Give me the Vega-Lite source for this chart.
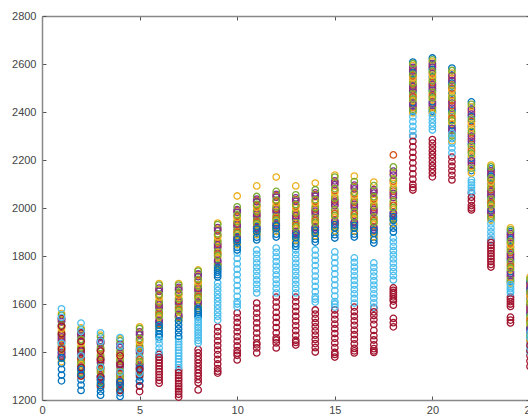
{
"$schema": "https://vega.github.io/schema/vega-lite/v6.json",
"width": 486,
"height": 384,
"autosize": "none",
"padding": {"left": 42, "top": 16, "right": 0, "bottom": 15},
"background": "white",
"config": {"view": {"stroke": null}, "axis": {"labelFont": "Liberation Sans", "labelFontSize": 11, "labelColor": "#444444", "domainColor": "#888888", "domainWidth": 1.5, "tickColor": "#555555", "tickSize": -4, "grid": false, "labelFlush": false}},
"layer": [
{"data": {"values": [
{"h":1,"c":1,"v":1328},{"h":1,"c":2,"v":1457},{"h":1,"c":3,"v":1429},{"h":1,"c":4,"v":1450},{"h":1,"c":5,"v":1436},{"h":1,"c":6,"v":1472},{"h":1,"c":7,"v":1444},
{"h":1,"c":1,"v":1400},{"h":1,"c":2,"v":1532},{"h":1,"c":3,"v":1560},{"h":1,"c":4,"v":1539},{"h":1,"c":5,"v":1553},{"h":1,"c":6,"v":1580},{"h":1,"c":7,"v":1540},
{"h":1,"c":1,"v":1280},{"h":1,"c":2,"v":1381},{"h":1,"c":3,"v":1360},{"h":1,"c":4,"v":1388},{"h":1,"c":5,"v":1374},{"h":1,"c":6,"v":1400},{"h":1,"c":7,"v":1380},
{"h":1,"c":1,"v":1352},{"h":1,"c":2,"v":1470},{"h":1,"c":3,"v":1484},{"h":1,"c":4,"v":1463},{"h":1,"c":5,"v":1477},{"h":1,"c":6,"v":1508},{"h":1,"c":7,"v":1476},
{"h":1,"c":1,"v":1304},{"h":1,"c":2,"v":1422},{"h":1,"c":3,"v":1408},{"h":1,"c":4,"v":1395},{"h":1,"c":5,"v":1415},{"h":1,"c":6,"v":1436},{"h":1,"c":7,"v":1412},
{"h":1,"c":1,"v":1376},{"h":1,"c":2,"v":1505},{"h":1,"c":3,"v":1498},{"h":1,"c":4,"v":1526},{"h":1,"c":5,"v":1512},{"h":1,"c":6,"v":1544},{"h":1,"c":7,"v":1508},
{"h":2,"c":1,"v":1284},{"h":2,"c":2,"v":1397},{"h":2,"c":3,"v":1369},{"h":2,"c":4,"v":1390},{"h":2,"c":5,"v":1376},{"h":2,"c":6,"v":1418},{"h":2,"c":7,"v":1372},
{"h":2,"c":1,"v":1350},{"h":2,"c":2,"v":1472},{"h":2,"c":3,"v":1500},{"h":2,"c":4,"v":1479},{"h":2,"c":5,"v":1493},{"h":2,"c":6,"v":1520},{"h":2,"c":7,"v":1480},
{"h":2,"c":1,"v":1240},{"h":2,"c":2,"v":1321},{"h":2,"c":3,"v":1300},{"h":2,"c":4,"v":1328},{"h":2,"c":5,"v":1314},{"h":2,"c":6,"v":1350},{"h":2,"c":7,"v":1300},
{"h":2,"c":1,"v":1306},{"h":2,"c":2,"v":1410},{"h":2,"c":3,"v":1424},{"h":2,"c":4,"v":1403},{"h":2,"c":5,"v":1417},{"h":2,"c":6,"v":1452},{"h":2,"c":7,"v":1408},
{"h":2,"c":1,"v":1262},{"h":2,"c":2,"v":1362},{"h":2,"c":3,"v":1348},{"h":2,"c":4,"v":1335},{"h":2,"c":5,"v":1355},{"h":2,"c":6,"v":1384},{"h":2,"c":7,"v":1336},
{"h":2,"c":1,"v":1328},{"h":2,"c":2,"v":1445},{"h":2,"c":3,"v":1438},{"h":2,"c":4,"v":1466},{"h":2,"c":5,"v":1452},{"h":2,"c":6,"v":1486},{"h":2,"c":7,"v":1444},
{"h":3,"c":1,"v":1252},{"h":3,"c":2,"v":1361},{"h":3,"c":3,"v":1332},{"h":3,"c":4,"v":1354},{"h":3,"c":5,"v":1340},{"h":3,"c":6,"v":1372},{"h":3,"c":7,"v":1332},
{"h":3,"c":1,"v":1300},{"h":3,"c":2,"v":1441},{"h":3,"c":3,"v":1470},{"h":3,"c":4,"v":1448},{"h":3,"c":5,"v":1463},{"h":3,"c":6,"v":1480},{"h":3,"c":7,"v":1440},
{"h":3,"c":1,"v":1220},{"h":3,"c":2,"v":1282},{"h":3,"c":3,"v":1260},{"h":3,"c":4,"v":1289},{"h":3,"c":5,"v":1274},{"h":3,"c":6,"v":1300},{"h":3,"c":7,"v":1260},
{"h":3,"c":1,"v":1268},{"h":3,"c":2,"v":1376},{"h":3,"c":3,"v":1390},{"h":3,"c":4,"v":1369},{"h":3,"c":5,"v":1383},{"h":3,"c":6,"v":1408},{"h":3,"c":7,"v":1368},
{"h":3,"c":1,"v":1236},{"h":3,"c":2,"v":1325},{"h":3,"c":3,"v":1311},{"h":3,"c":4,"v":1296},{"h":3,"c":5,"v":1318},{"h":3,"c":6,"v":1336},{"h":3,"c":7,"v":1296},
{"h":3,"c":1,"v":1284},{"h":3,"c":2,"v":1412},{"h":3,"c":3,"v":1405},{"h":3,"c":4,"v":1434},{"h":3,"c":5,"v":1419},{"h":3,"c":6,"v":1444},{"h":3,"c":7,"v":1404},
{"h":4,"c":1,"v":1245},{"h":4,"c":2,"v":1344},{"h":4,"c":3,"v":1314},{"h":4,"c":4,"v":1336},{"h":4,"c":5,"v":1322},{"h":4,"c":6,"v":1352},{"h":4,"c":7,"v":1312},
{"h":4,"c":1,"v":1290},{"h":4,"c":2,"v":1425},{"h":4,"c":3,"v":1455},{"h":4,"c":4,"v":1433},{"h":4,"c":5,"v":1447},{"h":4,"c":6,"v":1460},{"h":4,"c":7,"v":1420},
{"h":4,"c":1,"v":1215},{"h":4,"c":2,"v":1262},{"h":4,"c":3,"v":1240},{"h":4,"c":4,"v":1270},{"h":4,"c":5,"v":1255},{"h":4,"c":6,"v":1280},{"h":4,"c":7,"v":1240},
{"h":4,"c":1,"v":1260},{"h":4,"c":2,"v":1359},{"h":4,"c":3,"v":1373},{"h":4,"c":4,"v":1351},{"h":4,"c":5,"v":1366},{"h":4,"c":6,"v":1388},{"h":4,"c":7,"v":1348},
{"h":4,"c":1,"v":1230},{"h":4,"c":2,"v":1307},{"h":4,"c":3,"v":1292},{"h":4,"c":4,"v":1277},{"h":4,"c":5,"v":1299},{"h":4,"c":6,"v":1316},{"h":4,"c":7,"v":1276},
{"h":4,"c":1,"v":1275},{"h":4,"c":2,"v":1396},{"h":4,"c":3,"v":1388},{"h":4,"c":4,"v":1418},{"h":4,"c":5,"v":1403},{"h":4,"c":6,"v":1424},{"h":4,"c":7,"v":1384},
{"h":5,"c":1,"v":1296},{"h":5,"c":2,"v":1402},{"h":5,"c":3,"v":1374},{"h":5,"c":4,"v":1395},{"h":5,"c":5,"v":1381},{"h":5,"c":6,"v":1344},{"h":5,"c":7,"v":1281},
{"h":5,"c":1,"v":1350},{"h":5,"c":2,"v":1477},{"h":5,"c":3,"v":1505},{"h":5,"c":4,"v":1484},{"h":5,"c":5,"v":1498},{"h":5,"c":6,"v":1440},{"h":5,"c":7,"v":1350},
{"h":5,"c":1,"v":1260},{"h":5,"c":2,"v":1326},{"h":5,"c":3,"v":1305},{"h":5,"c":4,"v":1333},{"h":5,"c":5,"v":1319},{"h":5,"c":6,"v":1280},{"h":5,"c":7,"v":1235},
{"h":5,"c":1,"v":1314},{"h":5,"c":2,"v":1415},{"h":5,"c":3,"v":1429},{"h":5,"c":4,"v":1408},{"h":5,"c":5,"v":1422},{"h":5,"c":6,"v":1376},{"h":5,"c":7,"v":1304},
{"h":5,"c":1,"v":1278},{"h":5,"c":2,"v":1367},{"h":5,"c":3,"v":1353},{"h":5,"c":4,"v":1340},{"h":5,"c":5,"v":1360},{"h":5,"c":6,"v":1312},{"h":5,"c":7,"v":1258},
{"h":5,"c":1,"v":1332},{"h":5,"c":2,"v":1450},{"h":5,"c":3,"v":1443},{"h":5,"c":4,"v":1471},{"h":5,"c":5,"v":1457},{"h":5,"c":6,"v":1408},{"h":5,"c":7,"v":1327},
{"h":6,"c":1,"v":1488},{"h":6,"c":2,"v":1589},{"h":6,"c":3,"v":1564},{"h":6,"c":4,"v":1583},{"h":6,"c":5,"v":1570},{"h":6,"c":6,"v":1416},{"h":6,"c":7,"v":1318},
{"h":6,"c":1,"v":1525},{"h":6,"c":2,"v":1660},{"h":6,"c":3,"v":1685},{"h":6,"c":4,"v":1666},{"h":6,"c":5,"v":1679},{"h":6,"c":6,"v":1470},{"h":6,"c":7,"v":1390},
{"h":6,"c":1,"v":1462},{"h":6,"c":2,"v":1519},{"h":6,"c":3,"v":1500},{"h":6,"c":4,"v":1526},{"h":6,"c":5,"v":1513},{"h":6,"c":6,"v":1380},{"h":6,"c":7,"v":1270},
{"h":6,"c":1,"v":1500},{"h":6,"c":2,"v":1602},{"h":6,"c":3,"v":1615},{"h":6,"c":4,"v":1596},{"h":6,"c":5,"v":1608},{"h":6,"c":6,"v":1434},{"h":6,"c":7,"v":1342},
{"h":6,"c":1,"v":1475},{"h":6,"c":2,"v":1557},{"h":6,"c":3,"v":1545},{"h":6,"c":4,"v":1532},{"h":6,"c":5,"v":1551},{"h":6,"c":6,"v":1398},{"h":6,"c":7,"v":1294},
{"h":6,"c":1,"v":1512},{"h":6,"c":2,"v":1634},{"h":6,"c":3,"v":1628},{"h":6,"c":4,"v":1653},{"h":6,"c":5,"v":1640},{"h":6,"c":6,"v":1452},{"h":6,"c":7,"v":1366},
{"h":7,"c":1,"v":1497},{"h":7,"c":2,"v":1605},{"h":7,"c":3,"v":1583},{"h":7,"c":4,"v":1599},{"h":7,"c":5,"v":1589},{"h":7,"c":6,"v":1383},{"h":7,"c":7,"v":1257},
{"h":7,"c":1,"v":1545},{"h":7,"c":2,"v":1663},{"h":7,"c":3,"v":1685},{"h":7,"c":4,"v":1669},{"h":7,"c":5,"v":1679},{"h":7,"c":6,"v":1455},{"h":7,"c":7,"v":1325},
{"h":7,"c":1,"v":1465},{"h":7,"c":2,"v":1546},{"h":7,"c":3,"v":1530},{"h":7,"c":4,"v":1551},{"h":7,"c":5,"v":1541},{"h":7,"c":6,"v":1335},{"h":7,"c":7,"v":1212},
{"h":7,"c":1,"v":1513},{"h":7,"c":2,"v":1615},{"h":7,"c":3,"v":1626},{"h":7,"c":4,"v":1610},{"h":7,"c":5,"v":1621},{"h":7,"c":6,"v":1407},{"h":7,"c":7,"v":1280},
{"h":7,"c":1,"v":1481},{"h":7,"c":2,"v":1578},{"h":7,"c":3,"v":1567},{"h":7,"c":4,"v":1557},{"h":7,"c":5,"v":1573},{"h":7,"c":6,"v":1359},{"h":7,"c":7,"v":1235},
{"h":7,"c":1,"v":1529},{"h":7,"c":2,"v":1642},{"h":7,"c":3,"v":1637},{"h":7,"c":4,"v":1658},{"h":7,"c":5,"v":1647},{"h":7,"c":6,"v":1431},{"h":7,"c":7,"v":1302},
{"h":8,"c":1,"v":1565},{"h":8,"c":2,"v":1658},{"h":8,"c":3,"v":1636},{"h":8,"c":4,"v":1653},{"h":8,"c":5,"v":1641},{"h":8,"c":6,"v":1480},{"h":8,"c":7,"v":1326},
{"h":8,"c":1,"v":1590},{"h":8,"c":2,"v":1720},{"h":8,"c":3,"v":1742},{"h":8,"c":4,"v":1725},{"h":8,"c":5,"v":1737},{"h":8,"c":6,"v":1545},{"h":8,"c":7,"v":1410},
{"h":8,"c":1,"v":1548},{"h":8,"c":2,"v":1597},{"h":8,"c":3,"v":1580},{"h":8,"c":4,"v":1602},{"h":8,"c":5,"v":1591},{"h":8,"c":6,"v":1437},{"h":8,"c":7,"v":1242},
{"h":8,"c":1,"v":1573},{"h":8,"c":2,"v":1669},{"h":8,"c":3,"v":1681},{"h":8,"c":4,"v":1664},{"h":8,"c":5,"v":1675},{"h":8,"c":6,"v":1502},{"h":8,"c":7,"v":1354},
{"h":8,"c":1,"v":1556},{"h":8,"c":2,"v":1630},{"h":8,"c":3,"v":1619},{"h":8,"c":4,"v":1608},{"h":8,"c":5,"v":1625},{"h":8,"c":6,"v":1459},{"h":8,"c":7,"v":1272},
{"h":8,"c":1,"v":1582},{"h":8,"c":2,"v":1697},{"h":8,"c":3,"v":1692},{"h":8,"c":4,"v":1714},{"h":8,"c":5,"v":1703},{"h":8,"c":6,"v":1523},{"h":8,"c":7,"v":1382},
{"h":9,"c":1,"v":1732},{"h":9,"c":2,"v":1840},{"h":9,"c":3,"v":1815},{"h":9,"c":4,"v":1834},{"h":9,"c":5,"v":1821},{"h":9,"c":6,"v":1595},{"h":9,"c":7,"v":1389},
{"h":9,"c":1,"v":1760},{"h":9,"c":2,"v":1911},{"h":9,"c":3,"v":1937},{"h":9,"c":4,"v":1918},{"h":9,"c":5,"v":1931},{"h":9,"c":6,"v":1687},{"h":9,"c":7,"v":1504},
{"h":9,"c":1,"v":1713},{"h":9,"c":2,"v":1769},{"h":9,"c":3,"v":1750},{"h":9,"c":4,"v":1776},{"h":9,"c":5,"v":1763},{"h":9,"c":6,"v":1533},{"h":9,"c":7,"v":1312},
{"h":9,"c":1,"v":1741},{"h":9,"c":2,"v":1853},{"h":9,"c":3,"v":1866},{"h":9,"c":4,"v":1847},{"h":9,"c":5,"v":1860},{"h":9,"c":6,"v":1625},{"h":9,"c":7,"v":1427},
{"h":9,"c":1,"v":1722},{"h":9,"c":2,"v":1808},{"h":9,"c":3,"v":1795},{"h":9,"c":4,"v":1782},{"h":9,"c":5,"v":1802},{"h":9,"c":6,"v":1564},{"h":9,"c":7,"v":1350},
{"h":9,"c":1,"v":1750},{"h":9,"c":2,"v":1885},{"h":9,"c":3,"v":1879},{"h":9,"c":4,"v":1905},{"h":9,"c":5,"v":1892},{"h":9,"c":6,"v":1656},{"h":9,"c":7,"v":1466},
{"h":10,"c":1,"v":1847},{"h":10,"c":2,"v":1926},{"h":10,"c":3,"v":1904},{"h":10,"c":4,"v":1921},{"h":10,"c":5,"v":1909},{"h":10,"c":6,"v":1677},{"h":10,"c":7,"v":1445},
{"h":10,"c":1,"v":1880},{"h":10,"c":2,"v":1988},{"h":10,"c":3,"v":2050},{"h":10,"c":4,"v":1993},{"h":10,"c":5,"v":2005},{"h":10,"c":6,"v":1812},{"h":10,"c":7,"v":1562},
{"h":10,"c":1,"v":1825},{"h":10,"c":2,"v":1865},{"h":10,"c":3,"v":1848},{"h":10,"c":4,"v":1870},{"h":10,"c":5,"v":1859},{"h":10,"c":6,"v":1587},{"h":10,"c":7,"v":1367},
{"h":10,"c":1,"v":1858},{"h":10,"c":2,"v":1937},{"h":10,"c":3,"v":1949},{"h":10,"c":4,"v":1932},{"h":10,"c":5,"v":1943},{"h":10,"c":6,"v":1722},{"h":10,"c":7,"v":1484},
{"h":10,"c":1,"v":1836},{"h":10,"c":2,"v":1898},{"h":10,"c":3,"v":1887},{"h":10,"c":4,"v":1876},{"h":10,"c":5,"v":1893},{"h":10,"c":6,"v":1632},{"h":10,"c":7,"v":1406},
{"h":10,"c":1,"v":1869},{"h":10,"c":2,"v":1965},{"h":10,"c":3,"v":1960},{"h":10,"c":4,"v":1982},{"h":10,"c":5,"v":1971},{"h":10,"c":6,"v":1767},{"h":10,"c":7,"v":1523},
{"h":11,"c":1,"v":1889},{"h":11,"c":2,"v":1969},{"h":11,"c":3,"v":1947},{"h":11,"c":4,"v":1964},{"h":11,"c":5,"v":1952},{"h":11,"c":6,"v":1718},{"h":11,"c":7,"v":1479},
{"h":11,"c":1,"v":1923},{"h":11,"c":2,"v":2032},{"h":11,"c":3,"v":2092},{"h":11,"c":4,"v":2037},{"h":11,"c":5,"v":2048},{"h":11,"c":6,"v":1825},{"h":11,"c":7,"v":1604},
{"h":11,"c":1,"v":1867},{"h":11,"c":2,"v":1907},{"h":11,"c":3,"v":1890},{"h":11,"c":4,"v":1913},{"h":11,"c":5,"v":1901},{"h":11,"c":6,"v":1646},{"h":11,"c":7,"v":1396},
{"h":11,"c":1,"v":1901},{"h":11,"c":2,"v":1981},{"h":11,"c":3,"v":1992},{"h":11,"c":4,"v":1975},{"h":11,"c":5,"v":1986},{"h":11,"c":6,"v":1753},{"h":11,"c":7,"v":1521},
{"h":11,"c":1,"v":1878},{"h":11,"c":2,"v":1941},{"h":11,"c":3,"v":1930},{"h":11,"c":4,"v":1918},{"h":11,"c":5,"v":1935},{"h":11,"c":6,"v":1682},{"h":11,"c":7,"v":1438},
{"h":11,"c":1,"v":1912},{"h":11,"c":2,"v":2009},{"h":11,"c":3,"v":2003},{"h":11,"c":4,"v":2026},{"h":11,"c":5,"v":2015},{"h":11,"c":6,"v":1789},{"h":11,"c":7,"v":1562},
{"h":12,"c":1,"v":1903},{"h":12,"c":2,"v":1986},{"h":12,"c":3,"v":1962},{"h":12,"c":4,"v":1980},{"h":12,"c":5,"v":1968},{"h":12,"c":6,"v":1721},{"h":12,"c":7,"v":1502},
{"h":12,"c":1,"v":1938},{"h":12,"c":2,"v":2051},{"h":12,"c":3,"v":2129},{"h":12,"c":4,"v":2057},{"h":12,"c":5,"v":2069},{"h":12,"c":6,"v":1833},{"h":12,"c":7,"v":1629},
{"h":12,"c":1,"v":1879},{"h":12,"c":2,"v":1921},{"h":12,"c":3,"v":1903},{"h":12,"c":4,"v":1927},{"h":12,"c":5,"v":1915},{"h":12,"c":6,"v":1646},{"h":12,"c":7,"v":1417},
{"h":12,"c":1,"v":1914},{"h":12,"c":2,"v":1998},{"h":12,"c":3,"v":2010},{"h":12,"c":4,"v":1992},{"h":12,"c":5,"v":2004},{"h":12,"c":6,"v":1758},{"h":12,"c":7,"v":1544},
{"h":12,"c":1,"v":1891},{"h":12,"c":2,"v":1956},{"h":12,"c":3,"v":1945},{"h":12,"c":4,"v":1933},{"h":12,"c":5,"v":1950},{"h":12,"c":6,"v":1683},{"h":12,"c":7,"v":1459},
{"h":12,"c":1,"v":1926},{"h":12,"c":2,"v":2028},{"h":12,"c":3,"v":2022},{"h":12,"c":4,"v":2045},{"h":12,"c":5,"v":2033},{"h":12,"c":6,"v":1796},{"h":12,"c":7,"v":1587},
{"h":13,"c":1,"v":1864},{"h":13,"c":2,"v":1961},{"h":13,"c":3,"v":1934},{"h":13,"c":4,"v":1954},{"h":13,"c":5,"v":1941},{"h":13,"c":6,"v":1718},{"h":13,"c":7,"v":1509},
{"h":13,"c":1,"v":1900},{"h":13,"c":2,"v":2035},{"h":13,"c":3,"v":2092},{"h":13,"c":4,"v":2042},{"h":13,"c":5,"v":2055},{"h":13,"c":6,"v":1825},{"h":13,"c":7,"v":1629},
{"h":13,"c":1,"v":1840},{"h":13,"c":2,"v":1887},{"h":13,"c":3,"v":1867},{"h":13,"c":4,"v":1894},{"h":13,"c":5,"v":1880},{"h":13,"c":6,"v":1646},{"h":13,"c":7,"v":1429},
{"h":13,"c":1,"v":1876},{"h":13,"c":2,"v":1975},{"h":13,"c":3,"v":1988},{"h":13,"c":4,"v":1968},{"h":13,"c":5,"v":1981},{"h":13,"c":6,"v":1753},{"h":13,"c":7,"v":1549},
{"h":13,"c":1,"v":1852},{"h":13,"c":2,"v":1927},{"h":13,"c":3,"v":1914},{"h":13,"c":4,"v":1901},{"h":13,"c":5,"v":1921},{"h":13,"c":6,"v":1682},{"h":13,"c":7,"v":1469},
{"h":13,"c":1,"v":1888},{"h":13,"c":2,"v":2008},{"h":13,"c":3,"v":2001},{"h":13,"c":4,"v":2028},{"h":13,"c":5,"v":2015},{"h":13,"c":6,"v":1789},{"h":13,"c":7,"v":1589},
{"h":14,"c":1,"v":1883},{"h":14,"c":2,"v":1981},{"h":14,"c":3,"v":1953},{"h":14,"c":4,"v":1974},{"h":14,"c":5,"v":1960},{"h":14,"c":6,"v":1695},{"h":14,"c":7,"v":1470},
{"h":14,"c":1,"v":1920},{"h":14,"c":2,"v":2056},{"h":14,"c":3,"v":2104},{"h":14,"c":4,"v":2063},{"h":14,"c":5,"v":2076},{"h":14,"c":6,"v":1825},{"h":14,"c":7,"v":1575},
{"h":14,"c":1,"v":1858},{"h":14,"c":2,"v":1905},{"h":14,"c":3,"v":1885},{"h":14,"c":4,"v":1912},{"h":14,"c":5,"v":1899},{"h":14,"c":6,"v":1608},{"h":14,"c":7,"v":1400},
{"h":14,"c":1,"v":1895},{"h":14,"c":2,"v":1994},{"h":14,"c":3,"v":2008},{"h":14,"c":4,"v":1987},{"h":14,"c":5,"v":2001},{"h":14,"c":6,"v":1738},{"h":14,"c":7,"v":1505},
{"h":14,"c":1,"v":1870},{"h":14,"c":2,"v":1946},{"h":14,"c":3,"v":1933},{"h":14,"c":4,"v":1919},{"h":14,"c":5,"v":1940},{"h":14,"c":6,"v":1651},{"h":14,"c":7,"v":1435},
{"h":14,"c":1,"v":1908},{"h":14,"c":2,"v":2028},{"h":14,"c":3,"v":2022},{"h":14,"c":4,"v":2049},{"h":14,"c":5,"v":2035},{"h":14,"c":6,"v":1782},{"h":14,"c":7,"v":1540},
{"h":15,"c":1,"v":1903},{"h":15,"c":2,"v":2017},{"h":15,"c":3,"v":1985},{"h":15,"c":4,"v":2009},{"h":15,"c":5,"v":1993},{"h":15,"c":6,"v":1679},{"h":15,"c":7,"v":1457},
{"h":15,"c":1,"v":1945},{"h":15,"c":2,"v":2105},{"h":15,"c":3,"v":2137},{"h":15,"c":4,"v":2113},{"h":15,"c":5,"v":2129},{"h":15,"c":6,"v":1817},{"h":15,"c":7,"v":1575},
{"h":15,"c":1,"v":1875},{"h":15,"c":2,"v":1929},{"h":15,"c":3,"v":1905},{"h":15,"c":4,"v":1937},{"h":15,"c":5,"v":1921},{"h":15,"c":6,"v":1587},{"h":15,"c":7,"v":1379},
{"h":15,"c":1,"v":1917},{"h":15,"c":2,"v":2033},{"h":15,"c":3,"v":2049},{"h":15,"c":4,"v":2025},{"h":15,"c":5,"v":2041},{"h":15,"c":6,"v":1725},{"h":15,"c":7,"v":1497},
{"h":15,"c":1,"v":1889},{"h":15,"c":2,"v":1977},{"h":15,"c":3,"v":1961},{"h":15,"c":4,"v":1945},{"h":15,"c":5,"v":1969},{"h":15,"c":6,"v":1633},{"h":15,"c":7,"v":1418},
{"h":15,"c":1,"v":1931},{"h":15,"c":2,"v":2073},{"h":15,"c":3,"v":2065},{"h":15,"c":4,"v":2097},{"h":15,"c":5,"v":2081},{"h":15,"c":6,"v":1771},{"h":15,"c":7,"v":1536},
{"h":16,"c":1,"v":1903},{"h":16,"c":2,"v":2007},{"h":16,"c":3,"v":1978},{"h":16,"c":4,"v":2000},{"h":16,"c":5,"v":1985},{"h":16,"c":6,"v":1679},{"h":16,"c":7,"v":1472},
{"h":16,"c":1,"v":1940},{"h":16,"c":2,"v":2088},{"h":16,"c":3,"v":2133},{"h":16,"c":4,"v":2095},{"h":16,"c":5,"v":2110},{"h":16,"c":6,"v":1792},{"h":16,"c":7,"v":1587},
{"h":16,"c":1,"v":1879},{"h":16,"c":2,"v":1927},{"h":16,"c":3,"v":1905},{"h":16,"c":4,"v":1934},{"h":16,"c":5,"v":1920},{"h":16,"c":6,"v":1604},{"h":16,"c":7,"v":1396},
{"h":16,"c":1,"v":1916},{"h":16,"c":2,"v":2022},{"h":16,"c":3,"v":2037},{"h":16,"c":4,"v":2015},{"h":16,"c":5,"v":2029},{"h":16,"c":6,"v":1717},{"h":16,"c":7,"v":1511},
{"h":16,"c":1,"v":1891},{"h":16,"c":2,"v":1971},{"h":16,"c":3,"v":1956},{"h":16,"c":4,"v":1942},{"h":16,"c":5,"v":1963},{"h":16,"c":6,"v":1642},{"h":16,"c":7,"v":1434},
{"h":16,"c":1,"v":1928},{"h":16,"c":2,"v":2059},{"h":16,"c":3,"v":2051},{"h":16,"c":4,"v":2080},{"h":16,"c":5,"v":2066},{"h":16,"c":6,"v":1754},{"h":16,"c":7,"v":1549},
{"h":17,"c":1,"v":1880},{"h":17,"c":2,"v":1986},{"h":17,"c":3,"v":1956},{"h":17,"c":4,"v":1979},{"h":17,"c":5,"v":1963},{"h":17,"c":6,"v":1661},{"h":17,"c":7,"v":1468},
{"h":17,"c":1,"v":1920},{"h":17,"c":2,"v":2070},{"h":17,"c":3,"v":2108},{"h":17,"c":4,"v":2077},{"h":17,"c":5,"v":2093},{"h":17,"c":6,"v":1771},{"h":17,"c":7,"v":1583},
{"h":17,"c":1,"v":1854},{"h":17,"c":2,"v":1903},{"h":17,"c":3,"v":1880},{"h":17,"c":4,"v":1910},{"h":17,"c":5,"v":1895},{"h":17,"c":6,"v":1587},{"h":17,"c":7,"v":1398},
{"h":17,"c":1,"v":1894},{"h":17,"c":2,"v":2001},{"h":17,"c":3,"v":2017},{"h":17,"c":4,"v":1994},{"h":17,"c":5,"v":2009},{"h":17,"c":6,"v":1697},{"h":17,"c":7,"v":1515},
{"h":17,"c":1,"v":1867},{"h":17,"c":2,"v":1948},{"h":17,"c":3,"v":1933},{"h":17,"c":4,"v":1918},{"h":17,"c":5,"v":1941},{"h":17,"c":6,"v":1624},{"h":17,"c":7,"v":1430},
{"h":17,"c":1,"v":1907},{"h":17,"c":2,"v":2039},{"h":17,"c":3,"v":2032},{"h":17,"c":4,"v":2062},{"h":17,"c":5,"v":2047},{"h":17,"c":6,"v":1734},{"h":17,"c":7,"v":1552},
{"h":18,"c":1,"v":1932},{"h":18,"c":2,"v":2053},{"h":18,"c":3,"v":2019},{"h":18,"c":4,"v":2044},{"h":18,"c":5,"v":2028},{"h":18,"c":6,"v":1770},{"h":18,"c":7,"v":1612},
{"h":18,"c":1,"v":1980},{"h":18,"c":2,"v":2221},{"h":18,"c":3,"v":2145},{"h":18,"c":4,"v":2154},{"h":18,"c":5,"v":2171},{"h":18,"c":6,"v":1875},{"h":18,"c":7,"v":1667},
{"h":18,"c":1,"v":1900},{"h":18,"c":2,"v":1960},{"h":18,"c":3,"v":1935},{"h":18,"c":4,"v":1969},{"h":18,"c":5,"v":1952},{"h":18,"c":6,"v":1700},{"h":18,"c":7,"v":1505},
{"h":18,"c":1,"v":1948},{"h":18,"c":2,"v":2070},{"h":18,"c":3,"v":2086},{"h":18,"c":4,"v":2061},{"h":18,"c":5,"v":2078},{"h":18,"c":6,"v":1805},{"h":18,"c":7,"v":1630},
{"h":18,"c":1,"v":1916},{"h":18,"c":2,"v":2011},{"h":18,"c":3,"v":1994},{"h":18,"c":4,"v":1977},{"h":18,"c":5,"v":2002},{"h":18,"c":6,"v":1735},{"h":18,"c":7,"v":1540},
{"h":18,"c":1,"v":1964},{"h":18,"c":2,"v":2112},{"h":18,"c":3,"v":2103},{"h":18,"c":4,"v":2137},{"h":18,"c":5,"v":2120},{"h":18,"c":6,"v":1840},{"h":18,"c":7,"v":1648},
{"h":19,"c":1,"v":2484},{"h":19,"c":2,"v":2498},{"h":19,"c":3,"v":2469},{"h":19,"c":4,"v":2491},{"h":19,"c":5,"v":2476},{"h":19,"c":6,"v":2340},{"h":19,"c":7,"v":2165},
{"h":19,"c":1,"v":2608},{"h":19,"c":2,"v":2579},{"h":19,"c":3,"v":2593},{"h":19,"c":4,"v":2586},{"h":19,"c":5,"v":2601},{"h":19,"c":6,"v":2400},{"h":19,"c":7,"v":2300},
{"h":19,"c":1,"v":2403},{"h":19,"c":2,"v":2418},{"h":19,"c":3,"v":2396},{"h":19,"c":4,"v":2425},{"h":19,"c":5,"v":2411},{"h":19,"c":6,"v":2300},{"h":19,"c":7,"v":2075},
{"h":19,"c":1,"v":2535},{"h":19,"c":2,"v":2513},{"h":19,"c":3,"v":2528},{"h":19,"c":4,"v":2506},{"h":19,"c":5,"v":2520},{"h":19,"c":6,"v":2360},{"h":19,"c":7,"v":2210},
{"h":19,"c":1,"v":2440},{"h":19,"c":2,"v":2462},{"h":19,"c":3,"v":2447},{"h":19,"c":4,"v":2433},{"h":19,"c":5,"v":2454},{"h":19,"c":6,"v":2320},{"h":19,"c":7,"v":2120},
{"h":19,"c":1,"v":2564},{"h":19,"c":2,"v":2550},{"h":19,"c":3,"v":2542},{"h":19,"c":4,"v":2571},{"h":19,"c":5,"v":2557},{"h":19,"c":6,"v":2380},{"h":19,"c":7,"v":2255},
{"h":20,"c":1,"v":2491},{"h":20,"c":2,"v":2507},{"h":20,"c":3,"v":2475},{"h":20,"c":4,"v":2499},{"h":20,"c":5,"v":2483},{"h":20,"c":6,"v":2355},{"h":20,"c":7,"v":2192},
{"h":20,"c":1,"v":2625},{"h":20,"c":2,"v":2593},{"h":20,"c":3,"v":2609},{"h":20,"c":4,"v":2601},{"h":20,"c":5,"v":2617},{"h":20,"c":6,"v":2400},{"h":20,"c":7,"v":2285},
{"h":20,"c":1,"v":2404},{"h":20,"c":2,"v":2420},{"h":20,"c":3,"v":2396},{"h":20,"c":4,"v":2428},{"h":20,"c":5,"v":2412},{"h":20,"c":6,"v":2325},{"h":20,"c":7,"v":2130},
{"h":20,"c":1,"v":2546},{"h":20,"c":2,"v":2522},{"h":20,"c":3,"v":2538},{"h":20,"c":4,"v":2514},{"h":20,"c":5,"v":2530},{"h":20,"c":6,"v":2370},{"h":20,"c":7,"v":2223},
{"h":20,"c":1,"v":2443},{"h":20,"c":2,"v":2467},{"h":20,"c":3,"v":2451},{"h":20,"c":4,"v":2436},{"h":20,"c":5,"v":2459},{"h":20,"c":6,"v":2340},{"h":20,"c":7,"v":2161},
{"h":20,"c":1,"v":2578},{"h":20,"c":2,"v":2562},{"h":20,"c":3,"v":2554},{"h":20,"c":4,"v":2586},{"h":20,"c":5,"v":2570},{"h":20,"c":6,"v":2385},{"h":20,"c":7,"v":2254},
{"h":21,"c":1,"v":2405},{"h":21,"c":2,"v":2426},{"h":21,"c":3,"v":2385},{"h":21,"c":4,"v":2416},{"h":21,"c":5,"v":2395},{"h":21,"c":6,"v":2270},{"h":21,"c":7,"v":2155},
{"h":21,"c":1,"v":2583},{"h":21,"c":2,"v":2541},{"h":21,"c":3,"v":2562},{"h":21,"c":4,"v":2552},{"h":21,"c":5,"v":2573},{"h":21,"c":6,"v":2330},{"h":21,"c":7,"v":2212},
{"h":21,"c":1,"v":2290},{"h":21,"c":2,"v":2311},{"h":21,"c":3,"v":2280},{"h":21,"c":4,"v":2322},{"h":21,"c":5,"v":2301},{"h":21,"c":6,"v":2230},{"h":21,"c":7,"v":2117},
{"h":21,"c":1,"v":2479},{"h":21,"c":2,"v":2447},{"h":21,"c":3,"v":2468},{"h":21,"c":4,"v":2437},{"h":21,"c":5,"v":2458},{"h":21,"c":6,"v":2290},{"h":21,"c":7,"v":2174},
{"h":21,"c":1,"v":2343},{"h":21,"c":2,"v":2374},{"h":21,"c":3,"v":2353},{"h":21,"c":4,"v":2332},{"h":21,"c":5,"v":2364},{"h":21,"c":6,"v":2250},{"h":21,"c":7,"v":2136},
{"h":21,"c":1,"v":2520},{"h":21,"c":2,"v":2499},{"h":21,"c":3,"v":2489},{"h":21,"c":4,"v":2531},{"h":21,"c":5,"v":2510},{"h":21,"c":6,"v":2310},{"h":21,"c":7,"v":2193},
{"h":22,"c":1,"v":2268},{"h":22,"c":2,"v":2289},{"h":22,"c":3,"v":2248},{"h":22,"c":4,"v":2279},{"h":22,"c":5,"v":2258},{"h":22,"c":6,"v":2084},{"h":22,"c":7,"v":2030},
{"h":22,"c":1,"v":2442},{"h":22,"c":2,"v":2401},{"h":22,"c":3,"v":2421},{"h":22,"c":4,"v":2411},{"h":22,"c":5,"v":2432},{"h":22,"c":6,"v":2117},{"h":22,"c":7,"v":2062},
{"h":22,"c":1,"v":2156},{"h":22,"c":2,"v":2177},{"h":22,"c":3,"v":2146},{"h":22,"c":4,"v":2187},{"h":22,"c":5,"v":2166},{"h":22,"c":6,"v":2062},{"h":22,"c":7,"v":1992},
{"h":22,"c":1,"v":2340},{"h":22,"c":2,"v":2309},{"h":22,"c":3,"v":2330},{"h":22,"c":4,"v":2299},{"h":22,"c":5,"v":2319},{"h":22,"c":6,"v":2095},{"h":22,"c":7,"v":2045},
{"h":22,"c":1,"v":2207},{"h":22,"c":2,"v":2238},{"h":22,"c":3,"v":2217},{"h":22,"c":4,"v":2197},{"h":22,"c":5,"v":2228},{"h":22,"c":6,"v":2073},{"h":22,"c":7,"v":2000},
{"h":22,"c":1,"v":2381},{"h":22,"c":2,"v":2360},{"h":22,"c":3,"v":2350},{"h":22,"c":4,"v":2391},{"h":22,"c":5,"v":2370},{"h":22,"c":6,"v":2106},{"h":22,"c":7,"v":2010},
{"h":23,"c":1,"v":2045},{"h":23,"c":2,"v":2061},{"h":23,"c":3,"v":2029},{"h":23,"c":4,"v":2053},{"h":23,"c":5,"v":2037},{"h":23,"c":6,"v":1900},{"h":23,"c":7,"v":1799},
{"h":23,"c":1,"v":2163},{"h":23,"c":2,"v":2147},{"h":23,"c":3,"v":2179},{"h":23,"c":4,"v":2155},{"h":23,"c":5,"v":2171},{"h":23,"c":6,"v":1950},{"h":23,"c":7,"v":1867},
{"h":23,"c":1,"v":1958},{"h":23,"c":2,"v":1974},{"h":23,"c":3,"v":1950},{"h":23,"c":4,"v":1982},{"h":23,"c":5,"v":1966},{"h":23,"c":6,"v":1867},{"h":23,"c":7,"v":1754},
{"h":23,"c":1,"v":2100},{"h":23,"c":2,"v":2076},{"h":23,"c":3,"v":2092},{"h":23,"c":4,"v":2068},{"h":23,"c":5,"v":2084},{"h":23,"c":6,"v":1917},{"h":23,"c":7,"v":1822},
{"h":23,"c":1,"v":1997},{"h":23,"c":2,"v":2021},{"h":23,"c":3,"v":2005},{"h":23,"c":4,"v":1989},{"h":23,"c":5,"v":2013},{"h":23,"c":6,"v":1884},{"h":23,"c":7,"v":1777},
{"h":23,"c":1,"v":2132},{"h":23,"c":2,"v":2116},{"h":23,"c":3,"v":2108},{"h":23,"c":4,"v":2140},{"h":23,"c":5,"v":2124},{"h":23,"c":6,"v":1934},{"h":23,"c":7,"v":1844},
{"h":24,"c":1,"v":1782},{"h":24,"c":2,"v":1798},{"h":24,"c":3,"v":1766},{"h":24,"c":4,"v":1790},{"h":24,"c":5,"v":1774},{"h":24,"c":6,"v":1664},{"h":24,"c":7,"v":1600},
{"h":24,"c":1,"v":1901},{"h":24,"c":2,"v":1885},{"h":24,"c":3,"v":1917},{"h":24,"c":4,"v":1893},{"h":24,"c":5,"v":1909},{"h":24,"c":6,"v":1690},{"h":24,"c":7,"v":1629},
{"h":24,"c":1,"v":1695},{"h":24,"c":2,"v":1711},{"h":24,"c":3,"v":1687},{"h":24,"c":4,"v":1719},{"h":24,"c":5,"v":1703},{"h":24,"c":6,"v":1646},{"h":24,"c":7,"v":1521},
{"h":24,"c":1,"v":1838},{"h":24,"c":2,"v":1814},{"h":24,"c":3,"v":1830},{"h":24,"c":4,"v":1806},{"h":24,"c":5,"v":1822},{"h":24,"c":6,"v":1672},{"h":24,"c":7,"v":1610},
{"h":24,"c":1,"v":1735},{"h":24,"c":2,"v":1758},{"h":24,"c":3,"v":1743},{"h":24,"c":4,"v":1727},{"h":24,"c":5,"v":1750},{"h":24,"c":6,"v":1655},{"h":24,"c":7,"v":1545},
{"h":24,"c":1,"v":1869},{"h":24,"c":2,"v":1854},{"h":24,"c":3,"v":1846},{"h":24,"c":4,"v":1877},{"h":24,"c":5,"v":1861},{"h":24,"c":6,"v":1681},{"h":24,"c":7,"v":1620},
{"h":25,"c":1,"v":1558},{"h":25,"c":2,"v":1576},{"h":25,"c":3,"v":1540},{"h":25,"c":4,"v":1567},{"h":25,"c":5,"v":1549},{"h":25,"c":6,"v":1440},{"h":25,"c":7,"v":1384},
{"h":25,"c":1,"v":1694},{"h":25,"c":2,"v":1676},{"h":25,"c":3,"v":1712},{"h":25,"c":4,"v":1685},{"h":25,"c":5,"v":1703},{"h":25,"c":6,"v":1500},{"h":25,"c":7,"v":1450},
{"h":25,"c":1,"v":1459},{"h":25,"c":2,"v":1477},{"h":25,"c":3,"v":1450},{"h":25,"c":4,"v":1486},{"h":25,"c":5,"v":1468},{"h":25,"c":6,"v":1400},{"h":25,"c":7,"v":1340},
{"h":25,"c":1,"v":1622},{"h":25,"c":2,"v":1594},{"h":25,"c":3,"v":1613},{"h":25,"c":4,"v":1585},{"h":25,"c":5,"v":1604},{"h":25,"c":6,"v":1460},{"h":25,"c":7,"v":1406},
{"h":25,"c":1,"v":1504},{"h":25,"c":2,"v":1531},{"h":25,"c":3,"v":1513},{"h":25,"c":4,"v":1495},{"h":25,"c":5,"v":1522},{"h":25,"c":6,"v":1420},{"h":25,"c":7,"v":1362},
{"h":25,"c":1,"v":1658},{"h":25,"c":2,"v":1640},{"h":25,"c":3,"v":1631},{"h":25,"c":4,"v":1667},{"h":25,"c":5,"v":1649},{"h":25,"c":6,"v":1480},{"h":25,"c":7,"v":1428},
{"h":6,"c":7,"v":1282},{"h":6,"c":7,"v":1306},{"h":6,"c":7,"v":1330},{"h":6,"c":7,"v":1354},{"h":6,"c":7,"v":1378},
{"h":7,"c":6,"v":1347},{"h":7,"c":6,"v":1371},{"h":7,"c":6,"v":1395},{"h":7,"c":6,"v":1419},{"h":7,"c":6,"v":1443},
{"h":7,"c":7,"v":1224},{"h":7,"c":7,"v":1246},{"h":7,"c":7,"v":1268},{"h":7,"c":7,"v":1291},{"h":7,"c":7,"v":1314},
{"h":8,"c":6,"v":1448},{"h":8,"c":6,"v":1470},{"h":8,"c":6,"v":1491},{"h":8,"c":6,"v":1512},{"h":8,"c":6,"v":1534},
{"h":8,"c":7,"v":1285},{"h":8,"c":7,"v":1300},{"h":8,"c":7,"v":1312},{"h":8,"c":7,"v":1340},{"h":8,"c":7,"v":1368},{"h":8,"c":7,"v":1396},
{"h":9,"c":6,"v":1549},{"h":9,"c":6,"v":1580},{"h":9,"c":6,"v":1610},{"h":9,"c":6,"v":1640},{"h":9,"c":6,"v":1671},
{"h":9,"c":7,"v":1331},{"h":9,"c":7,"v":1369},{"h":9,"c":7,"v":1408},{"h":9,"c":7,"v":1446},{"h":9,"c":7,"v":1485},{"h":9,"c":7,"v":1320},
{"h":10,"c":6,"v":1610},{"h":10,"c":6,"v":1655},{"h":10,"c":6,"v":1700},{"h":10,"c":6,"v":1745},{"h":10,"c":6,"v":1790},{"h":10,"c":6,"v":1600},
{"h":10,"c":7,"v":1386},{"h":10,"c":7,"v":1425},{"h":10,"c":7,"v":1464},{"h":10,"c":7,"v":1503},{"h":10,"c":7,"v":1542},{"h":10,"c":7,"v":1395},
{"h":11,"c":6,"v":1664},{"h":11,"c":6,"v":1700},{"h":11,"c":6,"v":1736},{"h":11,"c":6,"v":1771},{"h":11,"c":6,"v":1807},
{"h":11,"c":7,"v":1417},{"h":11,"c":7,"v":1458},{"h":11,"c":7,"v":1500},{"h":11,"c":7,"v":1542},{"h":11,"c":7,"v":1583},{"h":11,"c":7,"v":1430},
{"h":12,"c":6,"v":1665},{"h":12,"c":6,"v":1702},{"h":12,"c":6,"v":1740},{"h":12,"c":6,"v":1777},{"h":12,"c":6,"v":1815},
{"h":12,"c":7,"v":1438},{"h":12,"c":7,"v":1480},{"h":12,"c":7,"v":1523},{"h":12,"c":7,"v":1565},{"h":12,"c":7,"v":1608},{"h":12,"c":7,"v":1450},
{"h":13,"c":6,"v":1665},{"h":13,"c":6,"v":1700},{"h":13,"c":6,"v":1735},{"h":13,"c":6,"v":1770},{"h":13,"c":6,"v":1806},
{"h":13,"c":7,"v":1449},{"h":13,"c":7,"v":1489},{"h":13,"c":7,"v":1529},{"h":13,"c":7,"v":1569},{"h":13,"c":7,"v":1609},{"h":13,"c":7,"v":1440},
{"h":14,"c":6,"v":1630},{"h":14,"c":6,"v":1673},{"h":14,"c":6,"v":1716},{"h":14,"c":6,"v":1760},{"h":14,"c":6,"v":1803},{"h":14,"c":6,"v":1620},
{"h":14,"c":7,"v":1418},{"h":14,"c":7,"v":1452},{"h":14,"c":7,"v":1488},{"h":14,"c":7,"v":1522},{"h":14,"c":7,"v":1558},
{"h":15,"c":6,"v":1610},{"h":15,"c":6,"v":1656},{"h":15,"c":6,"v":1702},{"h":15,"c":6,"v":1748},{"h":15,"c":6,"v":1794},{"h":15,"c":6,"v":1600},
{"h":15,"c":7,"v":1398},{"h":15,"c":7,"v":1438},{"h":15,"c":7,"v":1477},{"h":15,"c":7,"v":1516},{"h":15,"c":7,"v":1555},{"h":15,"c":7,"v":1390},
{"h":16,"c":6,"v":1623},{"h":16,"c":6,"v":1660},{"h":16,"c":6,"v":1698},{"h":16,"c":6,"v":1736},{"h":16,"c":6,"v":1773},
{"h":16,"c":7,"v":1415},{"h":16,"c":7,"v":1453},{"h":16,"c":7,"v":1491},{"h":16,"c":7,"v":1530},{"h":16,"c":7,"v":1568},{"h":16,"c":7,"v":1405},
{"h":17,"c":6,"v":1605},{"h":17,"c":6,"v":1642},{"h":17,"c":6,"v":1679},{"h":17,"c":6,"v":1716},{"h":17,"c":6,"v":1752},
{"h":17,"c":7,"v":1414},{"h":17,"c":7,"v":1450},{"h":17,"c":7,"v":1490},{"h":17,"c":7,"v":1534},{"h":17,"c":7,"v":1567},{"h":17,"c":7,"v":1405},
{"h":18,"c":6,"v":1718},{"h":18,"c":6,"v":1752},{"h":18,"c":6,"v":1788},{"h":18,"c":6,"v":1822},{"h":18,"c":6,"v":1858},
{"h":18,"c":7,"v":1522},{"h":18,"c":7,"v":1595},{"h":18,"c":7,"v":1620},{"h":18,"c":7,"v":1639},{"h":18,"c":7,"v":1657},
{"h":19,"c":7,"v":2098},{"h":19,"c":7,"v":2142},{"h":19,"c":7,"v":2188},{"h":19,"c":7,"v":2232},{"h":19,"c":7,"v":2278},{"h":19,"c":7,"v":2085},
{"h":20,"c":7,"v":2146},{"h":20,"c":7,"v":2176},{"h":20,"c":7,"v":2208},{"h":20,"c":7,"v":2238},{"h":20,"c":7,"v":2270},
{"h":23,"c":7,"v":1765},{"h":23,"c":7,"v":1788},{"h":23,"c":7,"v":1810},{"h":23,"c":7,"v":1833},{"h":23,"c":7,"v":1856},
{"h":24,"c":7,"v":1533},{"h":24,"c":7,"v":1590}
]},
"mark": {"type": "point", "shape": "circle", "filled": false, "size": 42, "strokeWidth": 1.3, "opacity": 1},
"encoding": {
"x": {"field": "h", "type": "quantitative", "scale": {"domain": [0, 25], "range": [0, 488], "nice": false, "zero": false}, "axis": {"orient": "bottom", "values": [0, 5, 10, 15, 20, 25], "labelPadding": 8, "title": null}},
"y": {"field": "v", "type": "quantitative", "scale": {"domain": [1200, 2800], "nice": false, "zero": false}, "axis": {"orient": "left", "values": [1200, 1400, 1600, 1800, 2000, 2200, 2400, 2600, 2800], "format": "d", "labelPadding": 10, "title": null}},
"color": {"field": "c", "type": "nominal", "scale": {"domain": [1, 2, 3, 4, 5, 6, 7], "range": ["#0072BD", "#D95319", "#EDB120", "#7E2F8E", "#77AC30", "#4DBEEE", "#A2142F"]}, "legend": null}
}},
{"data": {"values": [{"h": 0, "v": 1200}]},
"mark": {"type": "point", "opacity": 0},
"encoding": {
"x": {"field": "h", "type": "quantitative", "scale": {"domain": [0, 25], "range": [0, 488], "nice": false, "zero": false}, "axis": {"orient": "top", "values": [0, 5, 10, 15, 20, 25], "labels": false, "title": null}},
"y": {"field": "v", "type": "quantitative", "scale": {"domain": [1200, 2800], "nice": false, "zero": false}, "axis": {"orient": "right", "values": [1200, 1400, 1600, 1800, 2000, 2200, 2400, 2600, 2800], "labels": false, "domain": false, "tickSize": -2, "title": null}}
}}
],
"resolve": {"axis": {"x": "independent", "y": "independent"}}
}
